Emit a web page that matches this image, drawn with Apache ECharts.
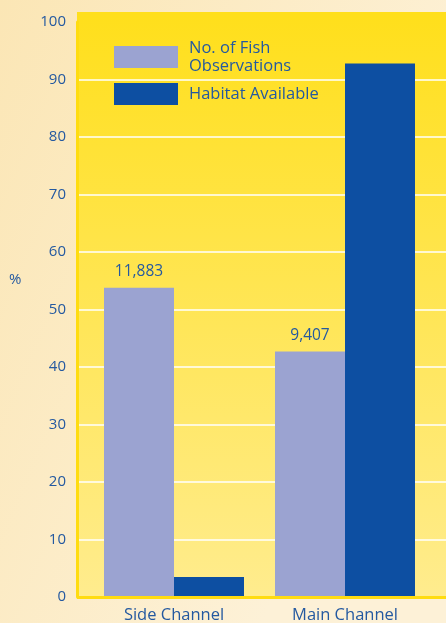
<!DOCTYPE html>
<html>
<head>
<meta charset="utf-8">
<script src="https://cdn.jsdelivr.net/npm/echarts@6/dist/echarts.min.js"></script>
<style>
  html, body { margin: 0; padding: 0; }
  #chart { width: 446px; height: 623px; }
</style>
</head>
<body>
<div id="chart"></div>
<script>
// data
var categories = ["Side Channel", "Main Channel"];
var fishPct = [53.8, 42.7];
var habitatPct = [3.5, 92.8];
var fishCounts = ["11,883", "9,407"];
var yTicks = [0, 10, 20, 30, 40, 50, 60, 70, 80, 90, 100];

var textBlue = "#2459a0";
var font = "Open Sans";

var chart = echarts.init(document.getElementById("chart"));
chart.setOption({
  backgroundColor: {
    type: "linear", x: 0, y: 0, x2: 1, y2: 0.3,
    colorStops: [{ offset: 0, color: "#fbe6b5" }, { offset: 1, color: "#fdf1d7" }]
  },
  textStyle: { fontFamily: font },
  graphic: [
    {
      // yellow plot panel, goes a bit above 100
      type: "rect", z: -10, silent: true,
      shape: { x: 77, y: 12, width: 369, height: 585 },
      style: {
        fill: {
          type: "linear", x: 0, y: 0, x2: 0, y2: 1,
          colorStops: [{ offset: 0, color: "#ffdf1b" }, { offset: 1, color: "#ffec8e" }]
        }
      }
    },
    {
      type: "text", left: 9, top: 272,
      style: { text: "%", fill: textBlue, font: "15px " + font }
    }
  ],
  legend: {
    orient: "vertical",
    left: 109, top: 34,
    itemWidth: 64, itemHeight: 22, itemGap: 8,
    icon: "rect",
    textStyle: { color: textBlue, fontSize: 16.5, lineHeight: 18, padding: [0, 0, 0, 6] },
    data: ["No. of Fish\nObservations", "Habitat Available"]
  },
  grid: [
    { left: 77, right: 0, top: 22, bottom: 26, outerBoundsMode: "none", containLabel: false },
    { left: 88.5, right: 15.5, top: 22, bottom: 26, outerBoundsMode: "none", containLabel: false }
  ],
  xAxis: [
    {
      type: "value", gridIndex: 0, show: false, min: 0, max: 1
    },
    {
      type: "category", gridIndex: 1, data: categories,
      axisLine: { show: false }, axisTick: { show: false },
      axisLabel: { color: textBlue, fontSize: 16.5, margin: 10 }
    }
  ],
  yAxis: [
    {
      type: "value", gridIndex: 0, min: 0, max: 100, interval: 10,
      axisLine: { show: true, lineStyle: { color: "#ffdc10", width: 3 } },
      axisTick: { show: false },
      axisLabel: {
        color: textBlue, fontSize: 15, margin: 11,
        formatter: function (v) { return yTicks.indexOf(v) >= 0 ? String(v) : ""; }
      },
      splitLine: { show: true, showMinLine: false, showMaxLine: false, lineStyle: { color: "#ffffff", width: 1.5 } }
    },
    {
      type: "value", gridIndex: 1, min: 0, max: 100, show: false
    }
  ],
  series: [
    {
      // bottom yellow axis line across the whole panel
      type: "line", xAxisIndex: 0, yAxisIndex: 0, silent: true,
      data: [], markLine: {
        symbol: "none", silent: true, label: { show: false },
        lineStyle: { color: "#ffdc10", width: 3, type: "solid" },
        data: [[{ coord: [0, 0] }, { coord: [1, 0] }]]
      }
    },
    {
      name: "No. of Fish\nObservations",
      type: "bar", xAxisIndex: 1, yAxisIndex: 1,
      barWidth: 70, barGap: "0%",
      itemStyle: { color: "#9ba3d1" },
      label: {
        show: true, position: "top", distance: 8,
        color: textBlue, fontSize: 15.5,
        formatter: function (p) { return fishCounts[p.dataIndex]; }
      },
      data: fishPct
    },
    {
      name: "Habitat Available",
      type: "bar", xAxisIndex: 1, yAxisIndex: 1,
      barWidth: 70, barGap: "0%",
      itemStyle: { color: "#0d4fa2" },
      data: habitatPct
    }
  ]
});
</script>
</body>
</html>
